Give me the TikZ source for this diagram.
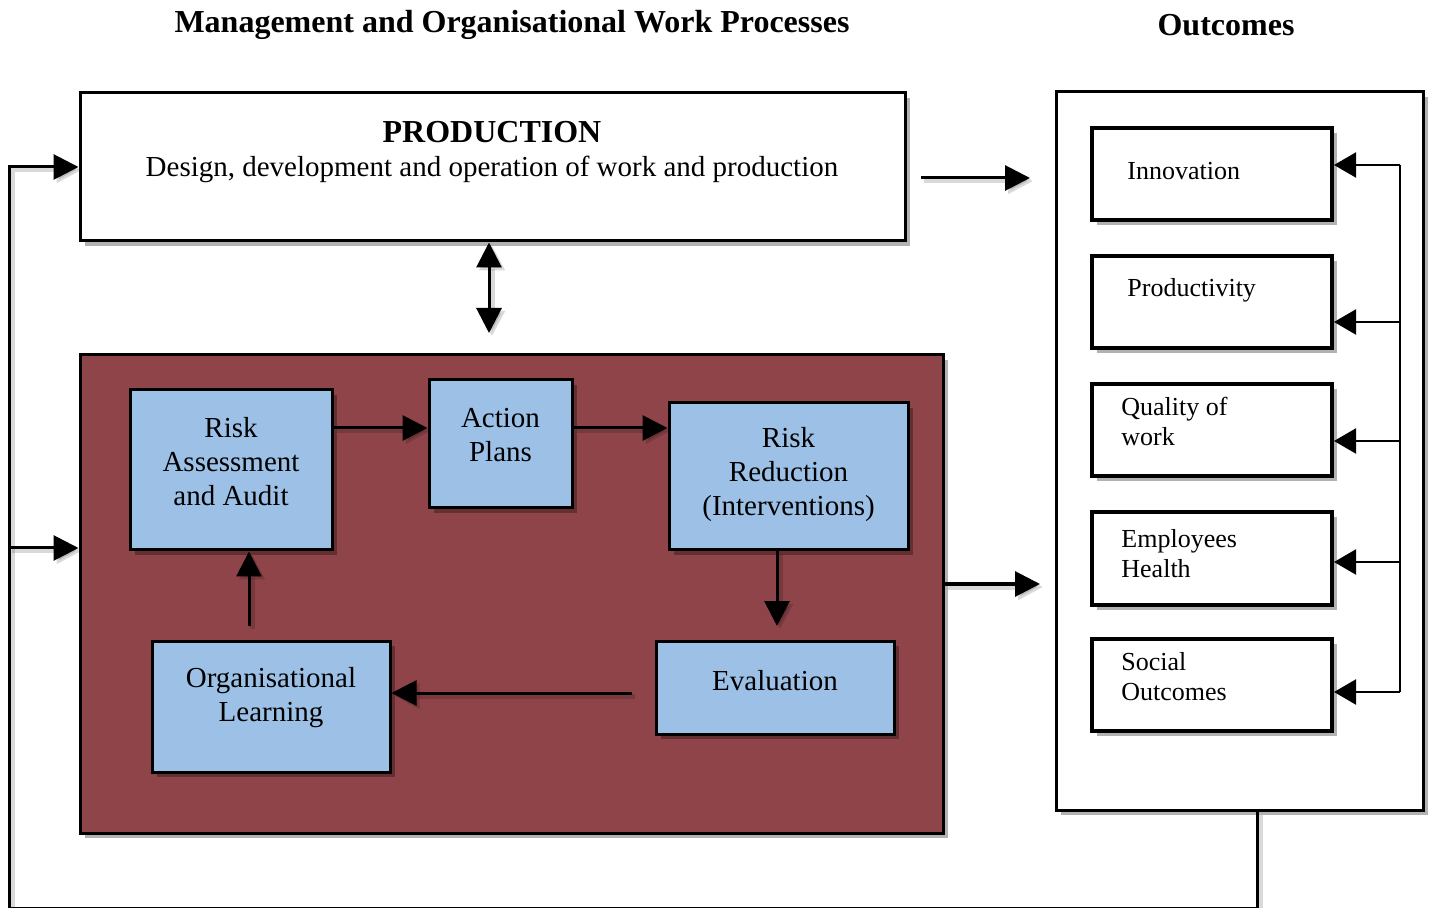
\documentclass[tikz,border=0pt]{standalone}
\usepackage{fontspec}
\setmainfont{Liberation Serif}
\usetikzlibrary{arrows.meta,shadows}
\definecolor{maroonbg}{RGB}{142,68,73}
\definecolor{lblue}{RGB}{157,193,230}
\begin{document}
\begin{tikzpicture}[x=0.5pt,y=-0.5pt,
  shad/.style={drop shadow={shadow xshift=2.5pt,shadow yshift=-2.5pt,opacity=0.3,fill=black}},
  wbox/.style={draw=black,line width=1.5pt,fill=white,inner sep=0pt,shad},
  mbox/.style={draw=black,line width=1.5pt,fill=maroonbg,inner sep=0pt,shad},
  bbox/.style={draw=black,line width=1.5pt,fill=lblue,inner sep=0pt,shad},
  obox/.style={draw=black,line width=2pt,fill=white,inner sep=0pt,shad},
  txt/.style={align=center,font=\fontsize{14.5}{17}\selectfont,inner sep=0pt},
  otxt/.style={align=left,anchor=west,font=\fontsize{13}{15}\selectfont,inner sep=0pt},
  ttl/.style={font=\fontsize{16}{19}\selectfont\bfseries,inner sep=0pt},
  conn/.style={line width=1.5pt,preaction={draw=black,opacity=0.15,line width=2.5pt,transform canvas={shift={(1.5pt,-1.5pt)}}}},
  arr/.style={conn,-{Triangle[length=12.5pt,width=12.5pt]}},
  darr/.style={conn,{Triangle[length=12.5pt,width=12.5pt]}-{Triangle[length=12.5pt,width=12.5pt]}},
  thin/.style={line width=1.1pt},
  tarr/.style={thin,-{Triangle[length=11pt,width=12.5pt]}}]
\useasboundingbox (0,0) rectangle (1429,908);

% titles
\node[ttl] (t1) at (512,25) {Management and Organisational Work Processes};
\node[ttl] (t2) at (1226,25) {Outcomes};

% production
\node[wbox,minimum width=412.5pt,minimum height=74pt] (prod) at (492.5,167) {};
\node[ttl] (prodt) at (492,132) {PRODUCTION};
\node[txt] (prodd) at (492,169) {Design, development and operation of work and production};

% maroon area
\node[mbox,minimum width=431.5pt,minimum height=239pt] (mar) at (511.5,594) {};

% blue boxes
\node[bbox,minimum width=101pt,minimum height=80pt] (ra) at (231,470) {};
\node[txt] (rat) at (231,462) {Risk\\Assessment\\and Audit};
\node[bbox,minimum width=71.5pt,minimum height=64pt] (ap) at (500.5,444) {};
\node[txt] (apt) at (500.5,435) {Action\\Plans};
\node[bbox,minimum width=119.5pt,minimum height=73.5pt] (rr) at (788.5,476.5) {};
\node[txt] (rrt) at (788.5,475) {Risk\\Reduction\\(Interventions)};
\node[bbox,minimum width=119pt,minimum height=46.5pt] (ev) at (775,687.5) {};
\node[txt] (evt) at (775,681) {Evaluation};
\node[bbox,minimum width=119pt,minimum height=65.5pt] (ol) at (271,706.5) {};
\node[txt] (olt) at (271,697.5) {Organisational\\Learning};

% outcomes
\node[wbox,minimum width=183.5pt,minimum height=359pt] (out) at (1239.5,451) {};
\node[obox,minimum width=120pt,minimum height=46pt] (o1) at (1212,174) {};
\node[obox,minimum width=120pt,minimum height=46pt] (o2) at (1212,302) {};
\node[obox,minimum width=120pt,minimum height=46pt] (o3) at (1212,430) {};
\node[obox,minimum width=120pt,minimum height=46pt] (o4) at (1212,558.5) {};
\node[obox,minimum width=120pt,minimum height=46pt] (o5) at (1212,685) {};
\node[otxt] (o1t) at (1127,171) {Innovation};
\node[otxt] (o2t) at (1127,290) {Productivity};
\node[otxt] (o3t) at (1121,421) {Quality of\\work};
\node[otxt] (o4t) at (1121,554) {Employees\\Health};
\node[otxt] (o5t) at (1121,677) {Social\\Outcomes};

% coordinates
\coordinate (bR) at (1257,908);
\coordinate (bL) at (9,908);
\coordinate (lB) at (9,548);
\coordinate (da) at (489,333);
\coordinate (pa1) at (921,178);
\coordinate (pa2) at (1030,178);
\coordinate (ma) at (1040,584);
\coordinate (r1) at (380,428);
\coordinate (re) at (777,626);
\coordinate (es) at (632,693);
\coordinate (os) at (249,626);
\coordinate (k1) at (1400,165);
\coordinate (k2) at (1400,322);
\coordinate (k3) at (1400,441);
\coordinate (k4) at (1400,562);
\coordinate (k5) at (1400,692);

% feedback loop
\draw[arr] (out.south -| bR) -- (bR) -- (bL) |- (prod.west);
\draw[arr] (lB) -- (lB -| mar.west);

% production links
\draw[darr] (da |- prod.south) -- (da);
\draw[arr] (pa1) -- (pa2);
\draw[arr] (ma -| mar.east) -- (ma);

% cycle
\draw[arr] (r1 -| ra.east) -- (r1 -| ap.west);
\draw[arr] (r1 -| ap.east) -- (r1 -| rr.west);
\draw[arr] (re |- rr.south) -- (re);
\draw[arr] (es) -- (es -| ol.east);
\draw[arr] (os) -- (os |- ra.south);

% outcomes bracket
\draw[thin] (k1) -- (k5);
\draw[tarr] (k1) -- (k1 -| o1.east);
\draw[tarr] (k2) -- (k2 -| o2.east);
\draw[tarr] (k3) -- (k3 -| o3.east);
\draw[tarr] (k4) -- (k4 -| o4.east);
\draw[tarr] (k5) -- (k5 -| o5.east);
\end{tikzpicture}
\end{document}
